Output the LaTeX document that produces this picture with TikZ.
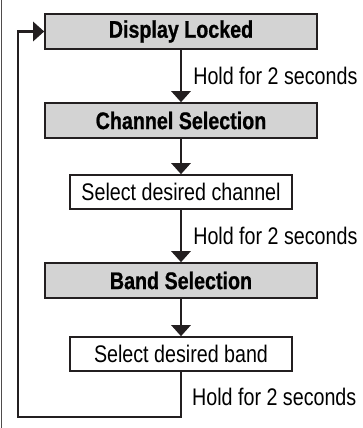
\documentclass[tikz,border=0pt]{standalone}
\usepackage{fontspec}
\setmainfont{Liberation Sans}[FakeStretch=0.82, BoldFeatures={FakeBold=0.8}]
\usetikzlibrary{arrows.meta, positioning}
\definecolor{boxgray}{HTML}{D3D3D3}
\definecolor{inkgray}{HTML}{231F20}

\begin{document}
\begin{tikzpicture}[x=1pt, y=-1pt, font=\fontsize{24}{27}\selectfont,
    state/.style={draw=inkgray, line width=1.6pt, fill=boxgray, minimum width=272pt, minimum height=35pt, inner sep=0pt, font=\fontsize{24}{27}\selectfont\bfseries},
    action/.style={draw=inkgray, line width=1.6pt, fill=white, minimum width=222pt, minimum height=34pt, inner sep=0pt},
    flow/.style={draw=inkgray, line width=2.6pt, -{Triangle[width=19pt, length=11pt]}},
    hold/.style={anchor=west, inner sep=0pt}]
  \useasboundingbox (0,0) rectangle (362,428);
  \draw[line width=1pt, inkgray!80] (1.5,0) -- (1.5,428);
  \node[state] (locked) at (181,31.5) {Display Locked};
  \node[state] (channel) at (181,120.5) {Channel Selection};
  \node[action] (selchan) at (181,192) {Select desired channel};
  \node[state] (band) at (181,280.5) {Band Selection};
  \node[action] (selband) at (181,354) {Select desired band};
  \coordinate (bottom) at (181,417);
  \coordinate (corner) at (18,417);
  \draw[flow] (locked) -- (channel) node[hold, midway, xshift=11pt] {Hold for 2 seconds};
  \draw[flow] (channel) -- (selchan);
  \draw[flow] (selchan) -- (band) node[hold, midway, xshift=11pt] {Hold for 2 seconds};
  \draw[flow] (band) -- (selband);
  \draw[flow, line join=miter] (selband) -- (bottom) -- (corner) |- (locked.west);
  \node[hold] (holdlast) at (192,397) {Hold for 2 seconds};
\end{tikzpicture}
\end{document}
